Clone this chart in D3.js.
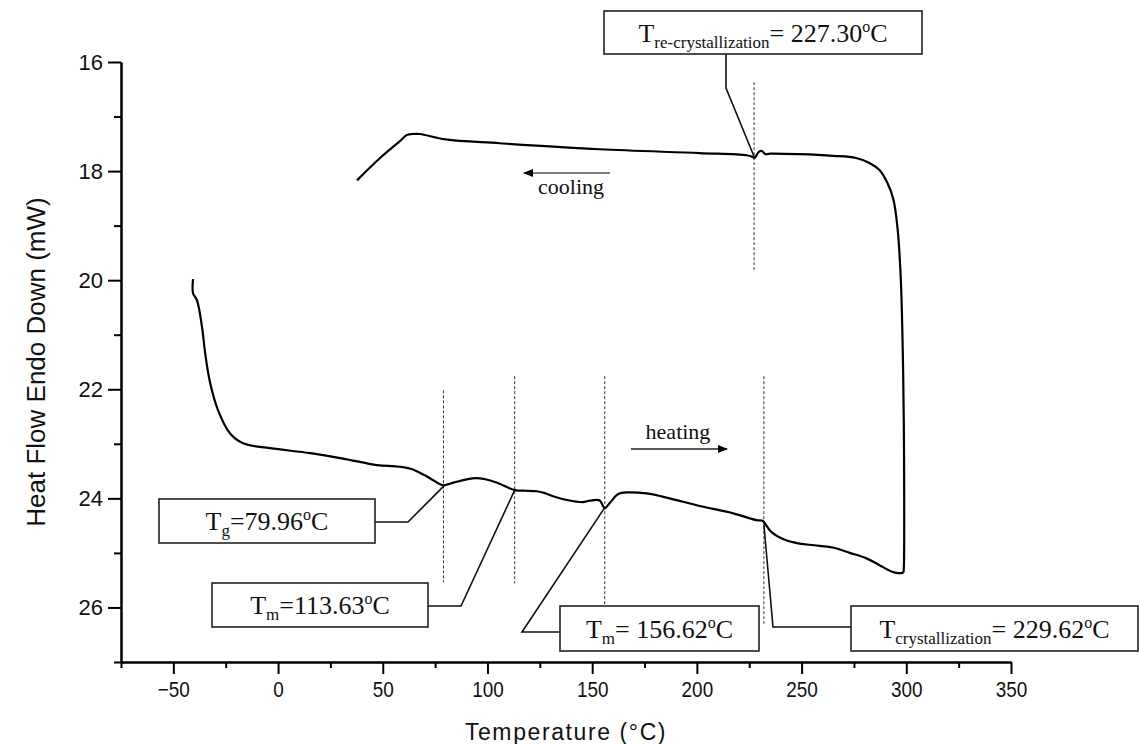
<!DOCTYPE html>
<html><head><meta charset="utf-8">
<script src="https://cdn.jsdelivr.net/npm/d3@7"></script>
<style>body{margin:0;background:#fff}</style>
</head><body>
<svg id="c" width="1140" height="744"></svg>
<script>
// ---------------- data ----------------
// heating run (temperature °C, heat flow mW)
const heatingT = [-40.6,-40.6,-38.7,-36.3,-34.8,-32.4,-28.6,-22.9,-16.7,-3.8,15.3,31,47.2,54.9,58.2,64.4,72.5,78.7,83,88,94,99,104.3,113.1,118,123.6,127,131.3,138,145.5,149,153.6,156,158.5,161.7,164,166.5,176,187,201.3,217,228.5,231.4,232.5,235.7,242,249,256,264.8,273,281,287,292.9,296,298.7];
const heatingY = [19.98,20.24,20.37,20.86,21.34,21.89,22.39,22.81,22.99,23.08,23.17,23.27,23.39,23.41,23.42,23.47,23.63,23.76,23.72,23.67,23.63,23.65,23.71,23.85,23.86,23.87,23.90,23.96,24.03,24.07,24.04,24.04,24.18,24.08,23.94,23.90,23.89,23.91,24.00,24.14,24.27,24.40,24.41,24.46,24.62,24.76,24.83,24.86,24.90,25.00,25.10,25.22,25.34,25.37,25.36];
// cooling run (time order: from 300 °C back down)
const coolingT = [298.9,299,298.8,298.3,297.4,295.9,293.9,291,287.2,282.4,276,265,248.9,235,232.8,230.9,229.5,227.6,226.6,223.8,201.3,153.6,105.9,80,67.7,64,61.5,58.2,48.7,37.7];
const coolingY = [25.2,24.04,22.57,21.28,20.0,19.08,18.53,18.22,17.98,17.85,17.76,17.72,17.69,17.68,17.69,17.63,17.65,17.76,17.74,17.71,17.67,17.60,17.49,17.42,17.32,17.32,17.34,17.45,17.76,18.17];

const xMajorTicks = [-50,0,50,100,150,200,250,300,350];
const xMinorTicks = [-75,-25,25,75,125,175,225,275,325];
const yMajorTicks = [16,18,20,22,24,26];
const yMinorTicks = [17,19,21,23,25,27];

// event markers (temperature, y-from, y-to)
const eventT    = [79, 113, 156, 232, 227.3];
const eventYTop = [22.02, 21.76, 21.76, 21.76, 16.37];
const eventYBot = [25.54, 25.56, 26.24, 26.30, 19.85];
// anchor points on the curve for each label
const anchorT = [79, 113, 156, 232, 227.6];
const anchorY = [23.78, 23.85, 24.17, 24.48, 17.76];

// label texts
const labelMain = ["T", "T", "T", "T", "T"];
const labelSub  = ["g", "m", "m", "crystallization", "re-crystallization"];
const labelVal  = ["=79.96", "=113.63", "= 156.62", "= 229.62", "= 227.30"];

// ---------------- layout ----------------
const svg = d3.select("#c");
const x = d3.scaleLinear().domain([-75, 350]).range([121, 1011]);
const y = d3.scaleLinear().domain([16, 27]).range([62, 662]);

// box layout (pixels): [x0, y0, x1, y1] and elbow points
const boxes = [
  {b:[159,499,375,543], elbow:[[375,522],[408,522]]},
  {b:[212,583,428,627], elbow:[[428,606],[461,606]]},
  {b:[560,606,759,651], elbow:[[560,632],[522,632]]},
  {b:[851,606,1138,651], elbow:[[851,627],[773,627]]},
  {b:[604,11,922,54],  elbow:[[726,54],[726,88]]}
];

const serif = "'Liberation Serif','Times New Roman',serif";
const sans = "'Liberation Sans',Arial,sans-serif";

// axes
const gx = svg.append("g").attr("transform", `translate(0,${y(27)})`);
gx.call(d3.axisBottom(x).tickValues(xMajorTicks).tickSize(12).tickSizeOuter(0).tickPadding(7).tickFormat(d3.format("d")));
const gx2 = svg.append("g").attr("transform", `translate(0,${y(27)})`);
gx2.call(d3.axisBottom(x).tickValues(xMinorTicks).tickSize(6).tickSizeOuter(0).tickFormat(""));
const gy = svg.append("g").attr("transform", `translate(${x(-75)},0)`);
gy.call(d3.axisLeft(y).tickValues(yMajorTicks).tickSize(13).tickSizeOuter(0).tickPadding(5));
const gy2 = svg.append("g").attr("transform", `translate(${x(-75)},0)`);
gy2.call(d3.axisLeft(y).tickValues(yMinorTicks).tickSize(7).tickSizeOuter(0).tickFormat(""));
svg.selectAll(".domain").attr("stroke", "#000").attr("stroke-width", 2);
svg.selectAll(".tick line").attr("stroke", "#000").attr("stroke-width", 2);
svg.selectAll(".tick text").attr("font-family", sans).attr("font-size", 22).attr("fill", "#111");
gx.selectAll(".tick text").attr("transform", "scale(0.86,1)");

// axis titles
svg.append("text").attr("x", 566).attr("y", 740).attr("text-anchor", "middle")
  .attr("font-family", sans).attr("font-size", 23).attr("letter-spacing", 1.6).attr("fill", "#111")
  .text("Temperature (\u00B0C)");
svg.append("text").attr("transform", "translate(45,362) rotate(-90)").attr("text-anchor", "middle")
  .attr("font-family", sans).attr("font-size", 26).attr("fill", "#111")
  .text("Heat Flow Endo Down (mW)");

// dashed event lines
eventT.forEach((t, i) => {
  svg.append("line").attr("x1", x(t)).attr("x2", x(t)).attr("y1", y(eventYTop[i])).attr("y2", y(eventYBot[i]))
    .attr("stroke", "#333").attr("stroke-width", 1).attr("stroke-dasharray", "3,2");
});

// curves
const line = d3.line().x(d => x(d[0])).y(d => y(d[1])).curve(d3.curveCatmullRom.alpha(0.5));
svg.append("path").datum(heatingT.map((t, i) => [t, heatingY[i]]))
  .attr("d", line).attr("fill", "none").attr("stroke", "#000").attr("stroke-width", 2.2).attr("stroke-linejoin", "round");
svg.append("path").datum([[heatingT[heatingT.length-1], heatingY[heatingY.length-1]]].concat(coolingT.map((t, i) => [t, coolingY[i]])))
  .attr("d", line).attr("fill", "none").attr("stroke", "#000").attr("stroke-width", 2.2).attr("stroke-linejoin", "round");

// leader lines and boxes
boxes.forEach((bx, i) => {
  const pts = bx.elbow.concat([[x(anchorT[i]), y(anchorY[i])]]);
  svg.append("path").attr("d", d3.line()(pts)).attr("fill", "none").attr("stroke", "#111").attr("stroke-width", 1.6);
  const [x0, y0, x1, y1] = bx.b;
  svg.append("rect").attr("x", x0).attr("y", y0).attr("width", x1 - x0).attr("height", y1 - y0)
    .attr("fill", "#fff").attr("stroke", "#222").attr("stroke-width", 1.6);
  const t = svg.append("text").attr("x", (x0 + x1) / 2).attr("y", (y0 + y1) / 2 + 9)
    .attr("text-anchor", "middle").attr("font-family", serif).attr("font-size", 26).attr("fill", "#111");
  t.append("tspan").text(labelMain[i]);
  t.append("tspan").attr("dy", 6).attr("font-size", 17).text(labelSub[i]);
  t.append("tspan").attr("dy", -6).text(labelVal[i]);
  t.append("tspan").attr("dy", -10).attr("font-size", 16).text("o");
  t.append("tspan").attr("dy", 10).text("C");
});

// direction arrows
const defs = svg.append("defs");
defs.append("marker").attr("id", "ah").attr("viewBox", "0 0 10 10").attr("refX", 9).attr("refY", 5)
  .attr("markerWidth", 10).attr("markerHeight", 10).attr("markerUnits", "userSpaceOnUse").attr("orient", "auto")
  .append("path").attr("d", "M0,1 L10,5 L0,9 Z").attr("fill", "#000");
svg.append("line").attr("x1", 631).attr("x2", 727).attr("y1", 449).attr("y2", 449)
  .attr("stroke", "#222").attr("stroke-width", 1.3).attr("marker-end", "url(#ah)");
svg.append("text").attr("x", 678).attr("y", 439).attr("text-anchor", "middle").attr("font-family", serif)
  .attr("font-size", 22).attr("fill", "#111").text("heating");
svg.append("line").attr("x1", 610).attr("x2", 524).attr("y1", 173).attr("y2", 173)
  .attr("stroke", "#555").attr("stroke-width", 1.3).attr("marker-end", "url(#ah)");
svg.append("text").attr("x", 571).attr("y", 194).attr("text-anchor", "middle").attr("font-family", serif)
  .attr("font-size", 22).attr("fill", "#111").text("cooling");
</script>
</body></html>
